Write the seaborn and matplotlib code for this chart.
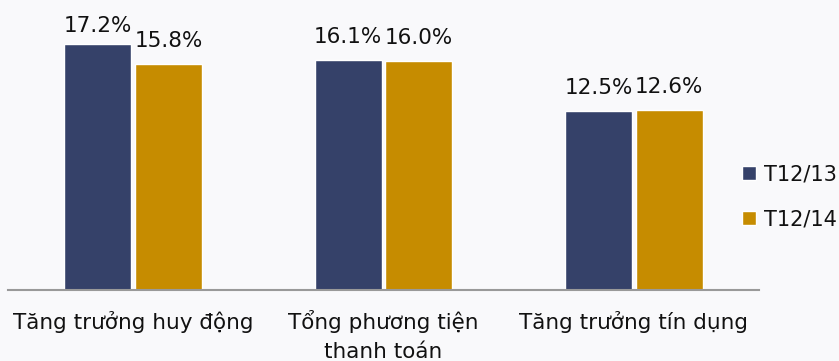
import matplotlib
matplotlib.use("Agg")
import matplotlib.pyplot as plt
import seaborn as sns
import pandas as pd

categories = ["Tăng trưởng huy động", "Tổng phương tiện\nthanh toán", "Tăng trưởng tín dụng"]
series_names = ["T12/13", "T12/14"]
values_1213 = [17.2, 16.1, 12.5]
values_1214 = [15.8, 16.0, 12.6]
colors = ["#354169", "#C68C00"]

sns.set_theme(style="white")
plt.rcParams["font.family"] = ["DejaVu Sans"]

df = pd.DataFrame({
    "category": categories * 2,
    "series": [series_names[0]] * 3 + [series_names[1]] * 3,
    "value": values_1213 + values_1214,
})

W, H = 839, 361
fig = plt.figure(figsize=(W / 100, H / 100), dpi=100)
fig.patch.set_facecolor("#f9f9fb")
ax = fig.add_axes([8 / W, 71 / H, 751 / W, 290 / H])
ax.set_facecolor("none")

sns.barplot(data=df, x="category", y="value", hue="series", palette=colors,
            width=0.564, gap=0.05, ax=ax, saturation=1, legend=True)

for i, cont in enumerate(ax.containers):
    for j, (bar, v) in enumerate(zip(cont, cont.datavalues)):
        pad = 5.5 if (i == 0 and j == 0) else 9.5
        ax.annotate(f"{v:.1f}%", (bar.get_x() + bar.get_width() / 2, bar.get_height()),
                    xytext=(0, pad), textcoords="offset points", ha="center", va="bottom",
                    fontsize=15.5, color="#111111")

ax.set_xlim(-0.5, 2.5)
ax.set_ylim(0, 20.28)
ax.set_xlabel("")
ax.set_ylabel("")
ax.set_yticks([])
ticks = list(range(len(categories)))
ax.set_xticks(ticks)
ax.set_xticklabels([""] * len(categories))
ax.tick_params(axis="x", length=0)
# category labels: each line placed on its own baseline
for x, lab in zip(ticks, categories):
    for k, line in enumerate(lab.split("\n")):
        ax.annotate(line, (x, 0), xycoords="data", xytext=(0, -28 - 21.3 * k),
                    textcoords="offset points", ha="center", va="baseline",
                    fontsize=15.5, color="#111111", annotation_clip=False)
for s in ["top", "right", "left"]:
    ax.spines[s].set_visible(False)
ax.spines["bottom"].set_color("#999999")
ax.spines["bottom"].set_linewidth(1.5)

leg = ax.legend(loc="center left", frameon=False, fontsize=15, handlelength=0.67,
                handleheight=0.67, handletextpad=0.38, labelspacing=1.2)
leg.set_bbox_to_anchor((723 / W, (361 - 197) / H), transform=fig.transFigure)
for t in leg.get_texts():
    t.set_color("#111111")

fig.savefig("out.png", dpi=100, facecolor=fig.get_facecolor())
